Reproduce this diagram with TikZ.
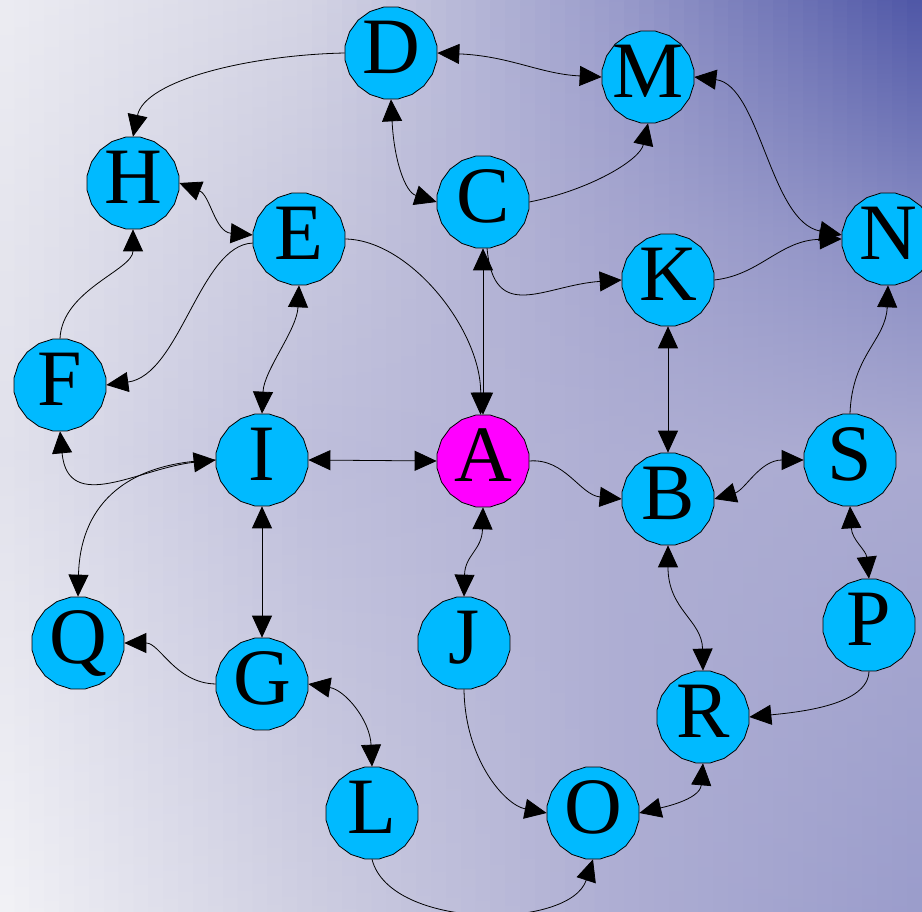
\documentclass[tikz,border=0pt]{standalone}
\usepackage{fontspec}
\setmainfont{Liberation Serif}
\usetikzlibrary{arrows.meta,shapes.geometric}
\definecolor{cyanfill}{HTML}{00BAFF}
\definecolor{magfill}{HTML}{FF00FF}
% background knots: rows at y = 0, 228, 456, 912; columns at x = 0, 1/3, 2/3, 1
\definecolor{T0}{HTML}{ECECF2}\definecolor{T1}{HTML}{D4D4E4}
\definecolor{T2}{HTML}{9A9CCB}\definecolor{T3}{HTML}{4E56A6}
\definecolor{U0}{HTML}{E6E6EE}\definecolor{U1}{HTML}{C8C8DE}
\definecolor{U2}{HTML}{A6A6CF}\definecolor{U3}{HTML}{868AC2}
\definecolor{M0}{HTML}{E2E2EC}\definecolor{M1}{HTML}{BEBEDB}
\definecolor{M2}{HTML}{AEAED3}\definecolor{M3}{HTML}{AAAAD1}
\definecolor{B0}{HTML}{F2F2F6}\definecolor{B1}{HTML}{CECEE1}
\definecolor{B2}{HTML}{AEAED3}\definecolor{B3}{HTML}{9A9CCB}
\newfontfamily\letterfont{Liberation Serif}
\begin{document}
\begin{tikzpicture}[x=1pt,y=-1pt,
  vtx/.style={regular polygon, regular polygon sides=20, minimum size=93pt,
    inner sep=0pt, draw=black, line width=0.8pt, fill=cyanfill},
  vtxA/.style={vtx, fill=magfill},
  lbl/.style={font=\letterfont\fontsize{80}{80}\selectfont, inner sep=0pt,
    text height=53pt, text depth=0pt, yshift=6pt},
  conn/.style={draw=black, line width=0.8pt},
  >={Triangle[length=22pt,width=20pt]}]
% background
\useasboundingbox (0,0) rectangle (922,912);
\foreach \i in {0,...,61} {
  \pgfmathsetmacro\xa{\i*14.871}
  \pgfmathsetmacro\xb{(\i+1)*14.871+0.8}
  \pgfmathsetmacro\f{(\i+0.5)*0.048387}
  \pgfmathtruncatemacro\sega{min(floor(\f),2)}
  \pgfmathtruncatemacro\segb{\sega+1}
  \pgfmathsetmacro\p{100-100*(\f-\sega)}
  \colorlet{ct}{T\sega!\p!T\segb}
  \colorlet{cu}{U\sega!\p!U\segb}
  \colorlet{cm}{M\sega!\p!M\segb}
  \colorlet{cb}{B\sega!\p!B\segb}
  \shade[top color=ct, bottom color=cu] (\xa,0) rectangle (\xb,228.6);
  \shade[top color=cu, bottom color=cm] (\xa,228) rectangle (\xb,456.6);
  \shade[top color=cm, bottom color=cb] (\xa,456) rectangle (\xb,912);
}
% nodes
\node[vtx, label={[lbl]center:D}] (D) at (391,53) {};
\node[vtx, label={[lbl]center:M}] (M) at (648,77) {};
\node[vtx, label={[lbl]center:H}] (H) at (133,183) {};
\node[vtx, label={[lbl]center:E}] (E) at (299,239) {};
\node[vtx, label={[lbl]center:C}] (C) at (483,202) {};
\node[vtx, label={[lbl]center:K}] (K) at (668,280) {};
\node[vtx, label={[lbl]center:N}] (N) at (888,239) {};
\node[vtx, label={[lbl]center:F}] (F) at (60,385) {};
\node[vtx, label={[lbl]center:I}] (I) at (262,460) {};
\node[vtxA, label={[lbl]center:A}] (A) at (483,461) {};
\node[vtx, label={[lbl]center:B}] (B) at (668,499) {};
\node[vtx, label={[lbl]center:S}] (S) at (850,460) {};
\node[vtx, label={[lbl]center:Q}] (Q) at (78,643) {};
\node[vtx, label={[lbl]center:G}] (G) at (262,684) {};
\node[vtx, label={[lbl]center:J}] (J) at (464,643) {};
\node[vtx, label={[lbl]center:P}] (P) at (869,625) {};
\node[vtx, label={[lbl]center:R}] (R) at (703,717) {};
\node[vtx, label={[lbl]center:L}] (L) at (372,813) {};
\node[vtx, label={[lbl]center:O}] (O) at (593,813) {};
% connectors
\draw[conn,->] (D.west) .. controls (250,55) and (145,80) .. (H.north);
\draw[conn,<->] (D.east) .. controls (510,56) and (540,74) .. (M.west);
\draw[conn,<->] (D.south) .. controls (394,160) and (405,192) .. (C.west);
\draw[conn,->] (C.east) .. controls (590,190) and (640,160) .. (M.south);
\draw[conn,<->] (C.south) -- (A.north);
\draw[conn,->] (C.-85) .. controls (494,325) and (545,285) .. (K.west);
\draw[conn,->] (K.east) .. controls (760,275) and (780,240) .. (N.west);
\draw[conn,<->] (M.east) .. controls (760,85) and (770,222) .. (N.175);
\draw[conn,<->] (H.east) .. controls (210,195) and (215,232) .. (E.175);
\draw[conn,->] (E.185) .. controls (200,245) and (180,375) .. (F.east);
\draw[conn,->] (F.north) .. controls (62,290) and (133,270) .. (H.south);
\draw[conn,<->] (E.south) .. controls (297,330) and (264,370) .. (I.north);
\draw[conn,->] (E.east) .. controls (410,240) and (481,330) .. (A.93);
\draw[conn,<->] (I.east) -- (A.west);
\draw[conn,<->] (F.south) .. controls (68,515) and (140,468) .. (I.west);
\draw[conn,->] (I.west) .. controls (120,462) and (80,510) .. (Q.north);
\draw[conn,<->] (I.south) -- (G.north);
\draw[conn,->] (G.west) .. controls (175,683) and (160,643) .. (Q.east);
\draw[conn,<->] (G.east) .. controls (345,690) and (370,720) .. (L.north);
\draw[conn,->] (L.south) .. controls (390,930) and (570,930) .. (O.south);
\draw[conn,->] (J.south) .. controls (465,760) and (505,805) .. (O.west);
\draw[conn,<->] (A.south) .. controls (482,550) and (465,555) .. (J.north);
\draw[conn,->] (A.east) .. controls (565,458) and (580,495) .. (B.west);
\draw[conn,<->] (K.south) -- (B.north);
\draw[conn,<->] (B.east) .. controls (745,490) and (760,460) .. (S.west);
\draw[conn,->] (S.north) .. controls (852,355) and (886,340) .. (N.south);
\draw[conn,<->] (S.south) .. controls (852,540) and (866,550) .. (P.north);
\draw[conn,<->] (B.south) .. controls (668,610) and (702,620) .. (R.north);
\draw[conn,->] (P.south) .. controls (868,705) and (800,712) .. (R.east);
\draw[conn,<->] (R.south) .. controls (700,800) and (660,808) .. (O.east);
\end{tikzpicture}
\end{document}
